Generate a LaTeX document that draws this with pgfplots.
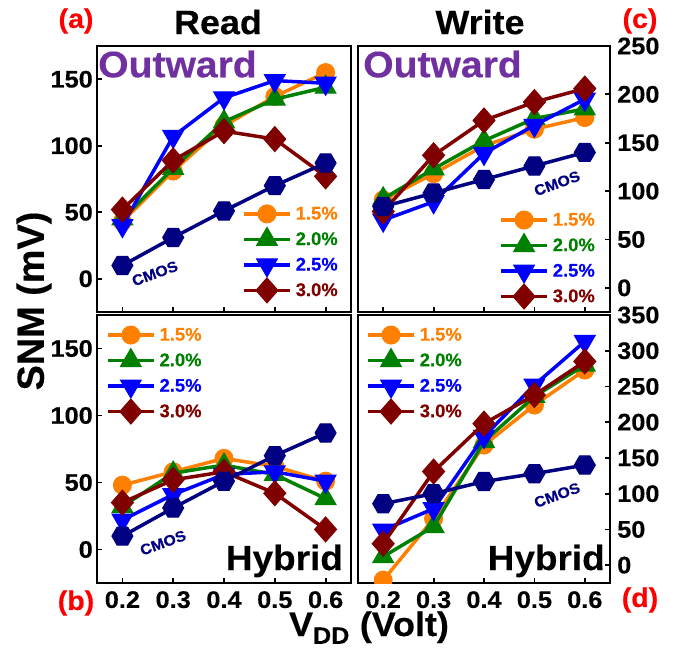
\documentclass[border=0pt]{standalone}
\usepackage{pgfplots}
\pgfplotsset{compat=1.18}
\usepackage{fontspec}
\setmainfont{Liberation Sans}[FakeStretch=1.06, BoldFeatures={FakeBold=0.3}]
\newfontfamily\plainsans{Liberation Sans}[BoldFeatures={FakeBold=0.3}]
\definecolor{cor}{RGB}{255,128,0}
\definecolor{cgr}{RGB}{0,128,0}
\definecolor{cbl}{RGB}{0,0,255}
\definecolor{cdr}{RGB}{128,0,0}
\definecolor{cnv}{RGB}{0,0,128}
\definecolor{cpu}{RGB}{112,48,160}
\definecolor{cred}{RGB}{255,0,0}
\newcommand{\fs}[1]{\fontsize{#1}{#1}\selectfont\bfseries}
\pgfdeclareplotmark{hex*}{%
  \pgfpathmoveto{\pgfqpoint{\pgfplotmarksize}{0pt}}%
  \pgfpathlineto{\pgfqpoint{0.5\pgfplotmarksize}{0.866\pgfplotmarksize}}%
  \pgfpathlineto{\pgfqpoint{-0.5\pgfplotmarksize}{0.866\pgfplotmarksize}}%
  \pgfpathlineto{\pgfqpoint{-\pgfplotmarksize}{0pt}}%
  \pgfpathlineto{\pgfqpoint{-0.5\pgfplotmarksize}{-0.866\pgfplotmarksize}}%
  \pgfpathlineto{\pgfqpoint{0.5\pgfplotmarksize}{-0.866\pgfplotmarksize}}%
  \pgfpathclose\pgfusepathqfillstroke}
\pgfdeclareplotmark{dia*}{%
  \pgfpathmoveto{\pgfqpoint{0pt}{\pgfplotmarksize}}%
  \pgfpathlineto{\pgfqpoint{0.88\pgfplotmarksize}{0pt}}%
  \pgfpathlineto{\pgfqpoint{0pt}{-\pgfplotmarksize}}%
  \pgfpathlineto{\pgfqpoint{-0.88\pgfplotmarksize}{0pt}}%
  \pgfpathclose\pgfusepathqfillstroke}
\pgfplotsset{
  panel/.style={
    scale only axis,
    xmin=0.15, xmax=0.65,
    xtick={0.2,0.3,0.4,0.5,0.6},
    tick align=inside, xtick pos=lower,
    axis line style={line width=2.5bp},
    major tick length=5bp,
    every tick/.style={black, line width=1.8bp},
    /pgf/number format/assume math mode=true,
    yticklabel style={font=\fs{24}, inner sep=0pt},
    xticklabel style={font=\fs{24}, inner sep=0pt, yshift=-8bp},
    clip marker paths=true,
    legend style={draw=none, fill=none, anchor=north west, inner sep=0pt,
      row sep=-4bp, column sep=2bp, font=\plainsans\fs{18.5}, cells={anchor=west}},
    legend image code/.code={\path (0bp,-13bp) (46bp,13bp);\draw[mark repeat=2,mark phase=2,##1] plot coordinates {(0bp,0bp)(23bp,0bp)(46bp,0bp)};},
  },
  left/.style={width=254bp, ytick pos=left, yticklabel style={xshift=-4bp}},
  right/.style={width=252bp, ytick pos=right, yticklabel pos=right, yticklabel style={xshift=7bp}},
  top/.style={height=266bp, xticklabels={}},
  bot/.style={height=268bp, xticklabels={0.2,0.3,0.4,0.5,0.6}},
  s15/.style={color=cor, line width=3.5bp, mark=*, mark size=9bp, mark options={solid, line width=1bp}},
  s20/.style={color=cgr, line width=3.5bp, mark=triangle*, mark size=12bp, mark options={solid, line width=1bp}},
  s25/.style={color=cbl, line width=3.5bp, mark=triangle*, mark size=12bp, mark options={solid, line width=1bp, rotate=180}},
  s30/.style={color=cdr, line width=3.5bp, mark=dia*, mark size=12.5bp, mark options={solid, line width=1bp}},
  scm/.style={color=cnv, line width=3.5bp, mark=hex*, mark size=10.5bp, mark options={solid, line width=1bp}},
}
\begin{document}
\begin{tikzpicture}
\path[use as bounding box] (0bp,0bp) rectangle (677bp,-649bp);
% (a) Read Outward
\begin{axis}[panel, left, top, at={(97bp,-46bp)}, anchor=north west,
  ymin=-25, ymax=175, ytick={0,50,100,150},
  legend style={at={(0.571,0.425)}}]
\addplot[s15] coordinates {(0.2,43)(0.3,81)(0.4,115)(0.5,137)(0.6,155)};
\addlegendentry{\textcolor{cor}{1.5\%}}
\addplot[s20] coordinates {(0.2,45)(0.3,83)(0.4,118)(0.5,135)(0.6,144)};
\addlegendentry{\textcolor{cgr}{2.0\%}}
\addplot[s25] coordinates {(0.2,40)(0.3,107)(0.4,136)(0.5,149)(0.6,147)};
\addlegendentry{\textcolor{cbl}{2.5\%}}
\addplot[s30] coordinates {(0.2,52)(0.3,89)(0.4,111)(0.5,105)(0.6,77)};
\addlegendentry{\textcolor{cdr}{3.0\%}}
\addplot[scm, forget plot] coordinates {(0.2,10)(0.3,31)(0.4,51)(0.5,70)(0.6,87)};
\node[anchor=west, inner sep=0pt, text=cpu, font=\fs{37}] at (rel axis cs:0.004,0.932) {Outward};
\node[rotate=20, text=cnv, font=\fs{15}] at (axis cs:0.264,4) {CMOS};
\end{axis}
% (c) Write Outward
\begin{axis}[panel, right, top, at={(358bp,-46bp)}, anchor=north west,
  ymin=-25, ymax=250, ytick={0,50,100,150,200,250},
  legend style={at={(0.56,0.402)}}]
\addplot[s15] coordinates {(0.2,91)(0.3,118)(0.4,147)(0.5,164)(0.6,176)};
\addlegendentry{\textcolor{cor}{1.5\%}}
\addplot[s20] coordinates {(0.2,92)(0.3,123)(0.4,152)(0.5,175)(0.6,185)};
\addlegendentry{\textcolor{cgr}{2.0\%}}
\addplot[s25] coordinates {(0.2,70)(0.3,89)(0.4,139)(0.5,168)(0.6,195)};
\addlegendentry{\textcolor{cbl}{2.5\%}}
\addplot[s30] coordinates {(0.2,79)(0.3,137)(0.4,173)(0.5,192)(0.6,206)};
\addlegendentry{\textcolor{cdr}{3.0\%}}
\addplot[scm, forget plot] coordinates {(0.2,84)(0.3,98)(0.4,112)(0.5,126)(0.6,140)};
\node[anchor=west, inner sep=0pt, text=cpu, font=\fs{37}] at (rel axis cs:0.02,0.932) {Outward};
\node[rotate=20, text=cnv, font=\fs{15}] at (axis cs:0.545,108) {CMOS};
\end{axis}
% (b) Read Hybrid
\begin{axis}[panel, left, bot, at={(97bp,-315bp)}, anchor=north west,
  ymin=-25, ymax=175, ytick={0,50,100,150},
  legend style={at={(0.035,0.981)}}]
\addplot[s15] coordinates {(0.2,48)(0.3,58)(0.4,68)(0.5,62)(0.6,51)};
\addlegendentry{\textcolor{cor}{1.5\%}}
\addplot[s20] coordinates {(0.2,32)(0.3,57)(0.4,63)(0.5,56)(0.6,38)};
\addlegendentry{\textcolor{cgr}{2.0\%}}
\addplot[s25] coordinates {(0.2,22)(0.3,41)(0.4,56)(0.5,58)(0.6,51)};
\addlegendentry{\textcolor{cbl}{2.5\%}}
\addplot[s30] coordinates {(0.2,35)(0.3,52)(0.4,58)(0.5,42)(0.6,15)};
\addlegendentry{\textcolor{cdr}{3.0\%}}
\addplot[scm, forget plot] coordinates {(0.2,10)(0.3,31)(0.4,51)(0.5,70)(0.6,87)};
\node[anchor=base east, inner sep=0pt, font=\fs{35}] at (rel axis cs:0.969,0.0485) {Hybrid};
\node[rotate=20, text=cnv, font=\fs{15}] at (axis cs:0.28,5) {CMOS};
\end{axis}
% (d) Write Hybrid
\begin{axis}[panel, right, bot, at={(358bp,-315bp)}, anchor=north west,
  ymin=-25, ymax=350, ytick={0,50,100,150,200,250,300,350},
  legend style={at={(0.032,0.981)}}]
\addplot[s15] coordinates {(0.2,-21)(0.3,65)(0.4,168)(0.5,224)(0.6,273)};
\addlegendentry{\textcolor{cor}{1.5\%}}
\addplot[s20] coordinates {(0.2,12)(0.3,54)(0.4,173)(0.5,236)(0.6,280)};
\addlegendentry{\textcolor{cgr}{2.0\%}}
\addplot[s25] coordinates {(0.2,49)(0.3,79)(0.4,180)(0.5,252)(0.6,313)};
\addlegendentry{\textcolor{cbl}{2.5\%}}
\addplot[s30] coordinates {(0.2,30)(0.3,131)(0.4,198)(0.5,238)(0.6,285)};
\addlegendentry{\textcolor{cdr}{3.0\%}}
\addplot[scm, forget plot] coordinates {(0.2,86)(0.3,100)(0.4,117)(0.5,128)(0.6,140)};
\node[anchor=base east, inner sep=0pt, font=\fs{35}] at (rel axis cs:0.98,0.0485) {Hybrid};
\node[rotate=20, text=cnv, font=\fs{15}] at (axis cs:0.545,98) {CMOS};
\end{axis}
% titles and labels
\node[font=\fs{34}] at (218bp,-22bp) {Read};
\node[font=\fs{34}] at (480bp,-22bp) {Write};
\node[font=\fs{27}, text=cred] at (76bp,-21bp) {(a)};
\node[font=\fs{27}, text=cred] at (640bp,-21bp) {(c)};
\node[font=\fs{27}, text=cred] at (76bp,-603bp) {(b)};
\node[font=\fs{27}, text=cred] at (640bp,-600bp) {(d)};
\node[rotate=90, font=\plainsans\fs{38}] at (34bp,-301bp) {SNM (mV)};
\node[anchor=base, font=\fs{34}] at (369bp,-636bp) {V\textsubscript{DD} (Volt)};
\end{tikzpicture}
\end{document}
